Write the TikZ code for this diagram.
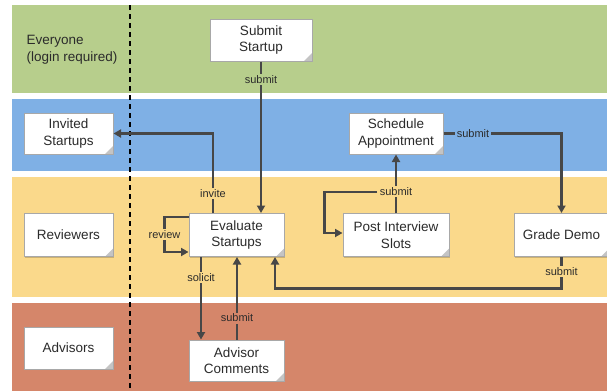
\documentclass[tikz,border=0pt]{standalone}
\usepackage{fontspec}
\setmainfont{Liberation Sans}
\usetikzlibrary{arrows.meta,calc,shadows}
\definecolor{bgreen}{HTML}{B7CE8C}
\definecolor{bblue}{HTML}{7FB0E5}
\definecolor{byellow}{HTML}{FAD98B}
\definecolor{bred}{HTML}{D5866A}
\definecolor{edgecol}{HTML}{474747}
\definecolor{boxline}{HTML}{A8A8A8}
\definecolor{txt}{HTML}{2B2B2B}
\definecolor{foldcol}{HTML}{C4C4C4}
\begin{document}
\begin{tikzpicture}[x=1pt,y=-1pt,
  box/.style={draw=boxline, line width=1pt, fill=white, text=txt, align=center,
    inner sep=0pt, font=\fontsize{13.5}{16.5}\selectfont,
    drop shadow={shadow xshift=1.2pt, shadow yshift=-1.2pt, opacity=0.18, fill=black},
    path picture={\fill[foldcol] ([xshift=-8pt]path picture bounding box.south east)
      -- ([yshift=8pt]path picture bounding box.south east)
      -- (path picture bounding box.south east) -- cycle;}},
  lab/.style={fill=#1, text=txt, inner sep=1.5pt, font=\fontsize{11}{12}\selectfont},
  arr/.style={draw=edgecol, line width=2.5pt, -{Triangle[length=7.5pt,width=8pt]}}]
\useasboundingbox (0,0) rectangle (607,391);
\fill[white] (0,0) rectangle (607,391);
% bands
\fill[bgreen] (12,5) rectangle (607,92.5);
\fill[bblue] (12,99) rectangle (607,171);
\fill[byellow] (12,177) rectangle (607,297);
\fill[bred] (12,303) rectangle (607,391);
% divider
\draw[line width=1.5pt, dash pattern=on 5pt off 4pt] (130,5) -- (130,391);
% lane labels
\node[anchor=west, align=left, text=txt, font=\fontsize{13.5}{16.5}\selectfont, inner sep=0pt] (ev) at (26.5,50) {Everyone\\(login required)};
% nodes
\node[box, minimum width=102pt, minimum height=42pt] (sub) at (261,40) {Submit\\Startup};
\node[box, minimum width=89pt, minimum height=41pt] (inv) at (68.5,133.5) {Invited\\Startups};
\node[box, minimum width=94pt, minimum height=41pt] (sched) at (396,133.5) {Schedule\\Appointment};
\node[box, minimum width=89pt, minimum height=43pt] (rev) at (68.5,235) {Reviewers};
\node[box, minimum width=95pt, minimum height=43pt] (eval) at (236.5,235) {Evaluate\\Startups};
\node[box, minimum width=106pt, minimum height=43pt] (post) at (396,235) {Post Interview\\Slots};
\node[box, minimum width=95pt, minimum height=43pt] (grade) at (561.5,235) {Grade Demo};
\node[box, minimum width=89pt, minimum height=42pt] (adv) at (68.5,348) {Advisors};
\node[box, minimum width=95pt, minimum height=41pt] (advc) at (236.5,360.5) {Advisor\\Comments};
% connectors
\draw[arr] (sub.south) -- node[lab=bgreen, pos=0.12] (l1) {submit} (sub.south |- eval.north);
\draw[arr] ([xshift=-23.5pt]eval.north) -- node[lab=byellow, pos=0.25] (l2) {invite}
  ([xshift=-23.5pt]eval.north |- inv.east) -- (inv.east);
\draw[arr] ([yshift=18pt]eval.west) -- ++(-24,0) -- node[lab=byellow] (l3) {review} ++(0,35)
  -- ([yshift=-17pt]eval.west);
\draw[arr] ([xshift=-35.5pt]eval.south) -- node[lab=byellow, pos=0.245] (l4) {solicit}
  ([xshift=-35.5pt]eval.south |- advc.north);
\draw[arr] ([xshift=0.5pt]advc.north) -- node[lab=bred, pos=0.26] (l5) {submit}
  ([xshift=0.5pt]advc.north |- eval.south);
\draw[arr] (post.north) -- node[lab=byellow, pos=0.36] (l6) {submit} (sched.south);
\draw[arr] (l6.west) -| ([xshift=-18pt,yshift=2pt]post.west) -- ([yshift=2pt]post.west);
\draw[arr] (sched.east) -- node[lab=bblue, pos=0.25] (l7) {submit} (sched.east -| grade.north) -- (grade.north);
\draw[arr] (grade.south) -- node[lab=byellow, pos=0.46] (l8) {submit} ++(0,31.5)
  -| ([xshift=38.5pt]eval.south);
\end{tikzpicture}
\end{document}
